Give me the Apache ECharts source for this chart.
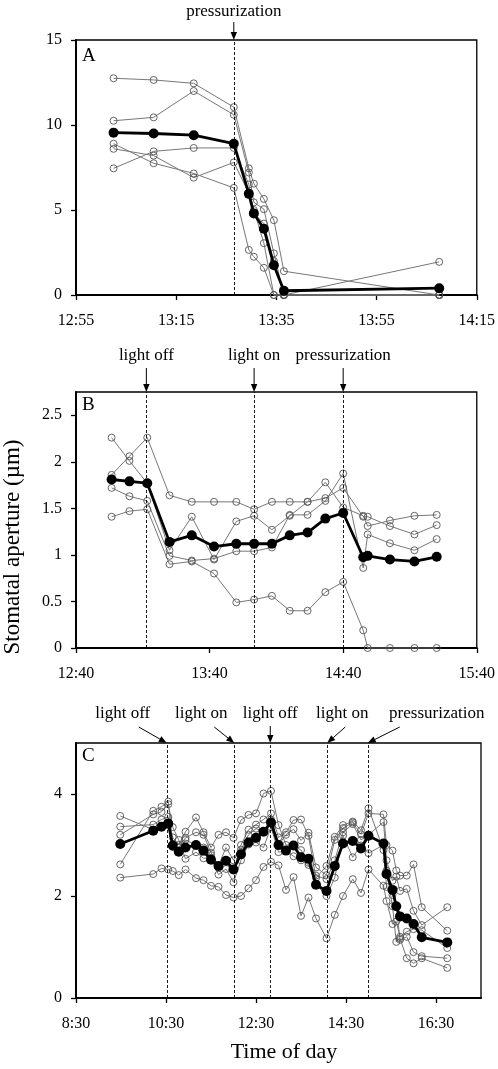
<!DOCTYPE html>
<html><head><meta charset="utf-8">
<script src="https://cdn.jsdelivr.net/npm/echarts@6/dist/echarts.min.js"></script>
<style>html,body{margin:0;padding:0;background:#fff}#c{width:498px;height:1069px}</style>
</head><body><div id="c"></div>
<script>
// ---------- DATA (times in minutes since midnight, aperture in µm) ----------
// Panel A
const timesA = [782.5, 790.5, 798.5, 806.5, 809.5, 810.5, 812.5, 814.5, 816.5, 847.5];
const meanA  = [9.55, 9.5, 9.4, 8.9, 5.95, 4.8, 3.9, 1.75, 0.25, 0.4];
const apA1   = [12.75, 12.65, 12.45, 11.05, 7.45, 6.55, 5.65, 4.4, 1.4, 0];
const apA2   = [10.25, 10.45, 12.0, 10.6, 7.2, 5.45, 5.05, 2.45, 0, 1.95];
const apA3   = [8.9, 7.75, 7.15, 6.3, 2.65, 2.25, 1.6, 0, 0, 0];
const apA4   = [8.6, 8.2, 6.9, 7.8, 6.0, 5.0, 3.05, 0, 0, 0];
const apA5   = [7.45, 8.45, 8.65, 8.65, 6.5, 4.8, 4.2, 2.0, 0, 0];
const eventsA = [{t: 806.5, label: "pressurization"}];
const xTicksA = ["12:55", "13:15", "13:35", "13:55", "14:15"];
const xMaxA = "14:15";
const yTicksA = [0, 5, 10, 15];

// Panel B
const timesB = [776, 784, 792, 802, 812, 822, 832, 840, 848, 856, 864, 872, 880, 889, 891, 901, 912, 922];
const meanB  = [1.81, 1.79, 1.77, 1.14, 1.21, 1.09, 1.12, 1.12, 1.12, 1.21, 1.24, 1.39, 1.45, 0.975, 0.99, 0.95, 0.93, 0.98];
const apB1   = [1.86, 2.06, 2.26, 1.64, 1.57, 1.57, 1.57, 1.49, 1.57, 1.57, 1.57, 1.61, 1.72, 1.41, 1.41, 1.31, 1.22, 1.32];
const apB2   = [2.26, 2.01, 1.77, 1.05, 1.41, 0.95, 1.36, 1.42, 1.27, 1.42, 1.57, 1.78, 1.51, 1.42, 1.31, 1.37, 1.42, 1.43];
const apB3   = [1.72, 1.63, 1.58, 0.99, 0.94, 0.96, 1.04, 1.04, 1.08, 1.43, 1.43, 1.58, 1.875, 0.86, 1.22, 1.125, 1.05, 1.17];
const apB4   = [1.41, 1.47, 1.49, 0.90, 0.93, 0.80, 0.49, 0.52, 0.56, 0.40, 0.40, 0.60, 0.71, 0.19, 0, 0, 0, 0];
const eventsB = [{t: 791.6, label: "light off"}, {t: 840, label: "light on"}, {t: 880, label: "pressurization"}];
const xTicksB = ["12:40", "13:40", "14:40", "15:40"];
const xMaxB = "15:40";
const yTicksB = [0, 0.5, 1, 1.5, 2, 2.5];

// Panel C
const timesC = [569, 613, 624, 633, 639, 647, 656, 670, 680, 690, 700, 710, 720, 730, 740, 750, 760, 770, 780, 790,
                800, 810, 820, 830, 844, 855, 866, 879, 890, 900, 920, 924, 932, 937, 942, 951, 960, 971, 1005];
const meanC  = [3.02, 3.28, 3.36, 3.42, 2.99, 2.87, 2.95, 3.0, 2.89, 2.71, 2.59, 2.69, 2.52, 2.82, 3.05, 3.14, 3.26, 3.44, 3.0, 2.89,
                2.99, 2.76, 2.73, 2.22, 2.10, 2.59, 3.03, 3.08, 2.93, 3.18, 3.03, 2.43, 2.12, 1.80, 1.60, 1.56, 1.45, 1.19, 1.09];
const apC1   = [3.57, 3.3, 3.36, 3.38, 3.0, 2.89, 3.1, 3.0, 2.95, 2.8, 2.55, 2.7, 2.52, 2.91, 3.2, 3.32, 3.27, 3.5, 3.0, 3.2,
                3.31, 3.09, 3.24, 2.56, 2.41, 3.1, 3.33, 3.44, 3.21, 3.62, 3.6, 3.0, 2.89, 2.5, 2.4, 2.4, 2.62, 1.78, 1.32];
const apC2   = [3.36, 3.4, 3.5, 3.55, 3.15, 3.0, 3.26, 3.54, 3.25, 2.95, 3.2, 3.25, 3.14, 3.49, 3.59, 3.62, 4.01, 4.06, 3.39, 3.0,
                3.0, 2.9, 2.65, 2.4, 2.33, 2.7, 3.25, 3.41, 3.1, 3.2, 3.45, 2.7, 2.3, 2.38, 2.1, 2.14, 1.71, 1.43, 1.78];
const apC3   = [3.2, 3.6, 3.65, 3.8, 3.35, 3.1, 2.73, 2.86, 2.74, 2.75, 2.42, 2.53, 2.27, 2.7, 3.01, 3.05, 2.95, 3.35, 2.86, 2.88,
                2.78, 2.7, 2.61, 2.23, 2.0, 2.36, 3.18, 2.76, 2.99, 2.84, 3.0, 2.18, 2.02, 1.8, 1.14, 1.2, 0.9, 0.82, 0.78];
const apC4   = [2.62, 3.67, 3.75, 3.85, 2.96, 2.95, 3.14, 3.25, 3.2, 2.85, 2.6, 2.95, 2.7, 3.0, 3.3, 3.4, 3.5, 3.62, 3.15, 3.25,
                3.49, 3.5, 3.18, 2.35, 2.59, 3.16, 3.39, 3.46, 3.29, 3.72, 2.9, 2.5, 1.8, 1.1, 1.17, 0.78, 0.68, 0.78, 0.59];
const apC5   = [2.36, 2.43, 2.54, 2.52, 2.49, 2.41, 2.52, 2.35, 2.31, 2.2, 2.18, 2.02, 1.97, 2.0, 2.15, 2.31, 2.57, 2.67, 2.6, 2.12,
                2.37, 1.61, 1.97, 1.56, 1.17, 1.63, 2.0, 2.33, 2.06, 2.52, 2.2, 1.9, 1.45, 1.5, 1.2, 1.3, 1.35, 1.33, 0.98];
const eventsC = [{t: 631, label: "light off"}, {t: 721, label: "light on"}, {t: 769, label: "light off"},
                 {t: 845, label: "light on"}, {t: 899, label: "pressurization"}];
const xTicksC = ["8:30", "10:30", "12:30", "14:30", "16:30"];
const xMaxC = "17:30";
const yTicksC = [0, 2, 4];

const panelLetters = ["A", "B", "C"];
const yTitle = "Stomatal aperture (µm)";
const xTitle = "Time of day";

// ---------- LAYOUT ----------
const FONT = "'Liberation Serif','Times New Roman',serif";
const toMin = s => { const [h, m] = s.split(':').map(Number); return h * 60 + m; };
const hhmm = m => { m = Math.round(m); return Math.floor(m / 60) + ':' + String(m % 60).padStart(2, '0'); };

const panels = [
  {top: 40,  height: 255, xTicks: xTicksA, xMax: xMaxA, yTicks: yTicksA, ymax: 15,   yint: 5,   times: timesA, mean: meanA, greys: [apA1, apA2, apA3, apA4, apA5], events: eventsA,
   letterDy: 16, textDy: -28, ann: [{dx: 0, sx: 0, sy: -18}]},
  {top: 392, height: 256, xTicks: xTicksB, xMax: xMaxB, yTicks: yTicksB, ymax: 2.75, yint: 0.5, times: timesB, mean: meanB, greys: [apB1, apB2, apB3, apB4], events: eventsB,
   letterDy: 13, textDy: -36, ann: [{dx: 0, sx: 0, sy: -24}, {dx: 0, sx: 0, sy: -24}, {dx: 0, sx: 0, sy: -24}]},
  {top: 743, height: 255, xTicks: xTicksC, xMax: xMaxC, yTicks: yTicksC, ymax: 5,    yint: 2,   times: timesC, mean: meanC, greys: [apC1, apC2, apC3, apC4, apC5], events: eventsC,
   letterDy: 13, textDy: -29, ann: [{dx: -44, sx: -28, sy: -16}, {dx: -33, sx: -20, sy: -16}, {dx: 0, sx: 0, sy: -17}, {dx: 15, sx: 18, sy: -16}, {dx: 69, sx: 32, sy: -16}]}
];
const LEFT = 76, WIDTH = 405;

const grids = [], xAxes = [], yAxes = [], series = [];
panels.forEach((p, i) => {
  const origin = toMin(p.xTicks[0]);
  const tickVals = p.xTicks.map(s => toMin(s) - origin);
  p.origin = origin;
  grids.push({left: LEFT, top: p.top, width: WIDTH, height: p.height, show: true, borderColor: '#000', borderWidth: 1.3, backgroundColor: 'transparent'});
  xAxes.push({
    type: 'value', gridIndex: i, min: 0, max: toMin(p.xMax) - origin, interval: tickVals[1] - tickVals[0],
    axisLine: {show: true, onZero: false, lineStyle: {color: '#000', width: 2}},
    axisTick: {show: true, length: 5, lineStyle: {color: '#000', width: 1.3}, customValues: tickVals},
    axisLabel: {show: true, customValues: tickVals, showMaxLabel: true, margin: 18, color: '#000', fontFamily: FONT, fontSize: 16,
                formatter: v => (tickVals.some(t => Math.abs(t - v) < 1e-9) ? hhmm(v + origin) : '')},
    splitLine: {show: false}
  });
  yAxes.push({
    type: 'value', gridIndex: i, min: 0, max: p.ymax, interval: p.yint,
    axisLine: {show: true, onZero: false, lineStyle: {color: '#000', width: 2}},
    axisTick: {show: true, length: 5, lineStyle: {color: '#000', width: 1.3}, customValues: p.yTicks},
    axisLabel: {show: true, customValues: p.yTicks, margin: 14, color: '#000', fontFamily: FONT, fontSize: 16,
                formatter: v => (p.yTicks.some(t => Math.abs(t - v) < 1e-9) ? String(v) : '')},
    splitLine: {show: false}
  });
  p.greys.forEach(g => {
    series.push({
      type: 'line', xAxisIndex: i, yAxisIndex: i, z: 2, clip: false, silent: true,
      data: p.times.map((t, k) => [t - origin, g[k]]),
      lineStyle: {color: '#777', width: 1},
      symbol: 'circle', symbolSize: 7,
      itemStyle: {color: 'rgba(255,255,255,0)', borderColor: '#555', borderWidth: 0.9}
    });
  });
  series.push({
    type: 'line', xAxisIndex: i, yAxisIndex: i, z: 4, clip: false, silent: true,
    data: p.times.map((t, k) => [t - origin, p.mean[k]]),
    lineStyle: {color: '#000', width: 2.8},
    symbol: 'circle', symbolSize: 10,
    itemStyle: {color: '#000'},
    markLine: {
      silent: true, symbol: ['none', 'none'], label: {show: false},
      lineStyle: {color: '#000', type: [3, 2], width: 0.9},
      data: p.events.map(e => ({xAxis: e.t - origin}))
    }
  });
});

const chart = echarts.init(document.getElementById('c'), null, {renderer: 'canvas'});
chart.setOption({
  animation: false,
  backgroundColor: '#fff',
  grid: grids, xAxis: xAxes, yAxis: yAxes, series: series
});

// ---------- ANNOTATIONS ----------
function arrow(x1, y1, x2, y2) {
  const a = Math.atan2(y2 - y1, x2 - x1), L = 8, W = 3.2;
  const bx = x2 - L * Math.cos(a), by = y2 - L * Math.sin(a);
  return [
    {type: 'line', silent: true, shape: {x1: x1, y1: y1, x2: bx, y2: by}, style: {stroke: '#000', lineWidth: 1}},
    {type: 'polygon', silent: true, shape: {points: [[x2, y2], [bx - W * Math.sin(a), by + W * Math.cos(a)], [bx + W * Math.sin(a), by - W * Math.cos(a)]]}, style: {fill: '#000'}}
  ];
}
function txt(x, y, s, size, rot) {
  return {type: 'text', silent: true, x: x, y: y, rotation: rot || 0,
    style: {text: s, fill: '#000', font: size + 'px ' + FONT, fontFamily: FONT, fontSize: size,
            align: 'center', verticalAlign: 'middle', textAlign: 'center', textVerticalAlign: 'middle'}};
}
const gfx = [];
panels.forEach((p, i) => {
  gfx.push({type: 'text', silent: true, x: LEFT + 6, y: p.top + p.letterDy,
    style: {text: panelLetters[i], fill: '#000', font: '19px ' + FONT, fontFamily: FONT, fontSize: 19,
            align: 'left', verticalAlign: 'middle', textAlign: 'left', textVerticalAlign: 'middle'}});
  p.events.forEach((e, k) => {
    const lx = chart.convertToPixel({xAxisIndex: i}, e.t - p.origin);
    const a = p.ann[k];
    gfx.push(txt(lx + a.dx, p.top + p.textDy, e.label, 17));
    arrow(lx + a.sx, p.top + a.sy, lx, p.top).forEach(el => gfx.push(el));
  });
});
gfx.push(txt(13, 547, yTitle, 23, Math.PI / 2));
gfx.push(txt(284, 1052, xTitle, 22));
chart.setOption({graphic: {elements: gfx}});
</script>
</body></html>
